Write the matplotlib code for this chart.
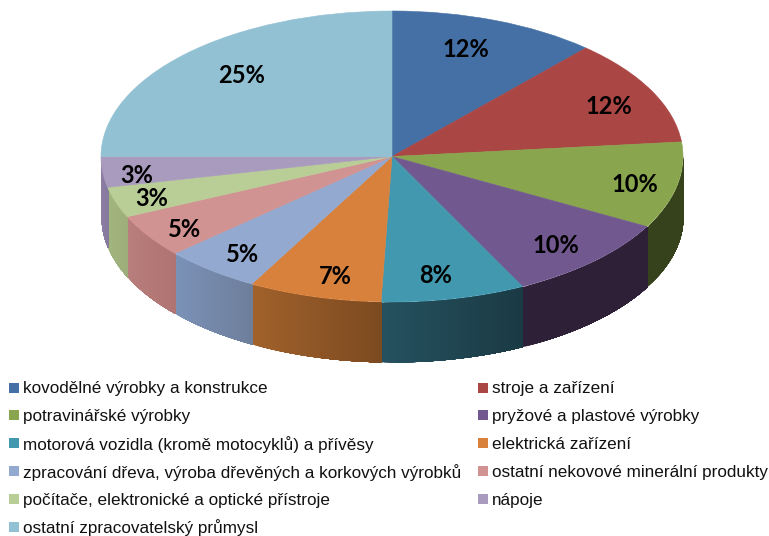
import numpy as np
from matplotlib import pyplot as plt
from matplotlib.colors import to_rgb
from matplotlib.patches import Rectangle

plt.rcParams['font.family'] = ['Liberation Sans', 'DejaVu Sans']

################################################################################
### Data
################################################################################
categories = ['kovodělné výrobky a konstrukce', 'stroje a zařízení',
              'potravinářské výrobky', 'pryžové a plastové výrobky',
              'motorová vozidla (kromě motocyklů) a přívěsy', 'elektrická zařízení',
              'zpracování dřeva, výroba dřevěných a korkových výrobků',
              'ostatní nekovové minerální produkty',
              'počítače, elektronické a optické přístroje', 'nápoje',
              'ostatní zpracovatelský průmysl']
values = [11.6, 11.8, 9.6, 9.6, 8.0, 7.4, 5.4, 4.8, 3.4, 3.4, 25.0]
labels = ['12%', '12%', '10%', '10%', '8%', '7%', '5%', '5%', '3%', '3%', '25%']
colors = ['#4470a5', '#aa4644', '#89a54e', '#71588f', '#4198af', '#d8813c',
          '#93a9cf', '#d19392', '#b9cd96', '#a99bbd', '#92c1d3']

# side wall colours, left end and right end as seen on the page
wall_left = ['#4470a5', '#aa4644', '#36421c', '#2e2037', '#25515f', '#a2622c',
             '#7b92b8', '#b87f7d', '#a3b57f', '#8d7da5', '#92c1d3']
wall_right = ['#4470a5', '#aa4644', '#36421c', '#2e2037', '#1a3a44', '#7c4a20',
              '#6e7f9c', '#b07472', '#9dae7a', '#877a9f', '#92c1d3']

# how far out along the slice each label sits, then a nudge in pixels
label_r = [0.77, 0.81, 0.87, 0.82, 0.82, 0.80, 0.83, 0.87, 0.87, 0.88, 0.77]
label_dx = [-6, 7, -5, -2, -7, 5, 1, 5, 0, -1, 8]
label_dy = [2, -4, -3, -3, -2, -8, -4, -4, -2, -5, 2]

################################################################################
### Pie top, squashed through the axis limits
################################################################################
W, H = 769, 536
cx, cy = 392, 156.5    # pie centre in pixels
rx, ry = 291, 145.5    # pie radii in pixels
depth = 60 / ry

fig = plt.figure(figsize=(W / 100, H / 100), dpi=100)
ax = fig.add_axes([0, 0, 1, 1])
wedges, _ = ax.pie(values, colors=colors, startangle=90, counterclock=False,
                   wedgeprops={'linewidth': 0.4, 'zorder': 3})
for wedge in wedges:
    wedge.set_edgecolor(wedge.get_facecolor())
ax.set_aspect('auto')
ax.set_xlim(-cx / rx, (W - cx) / rx)
ax.set_ylim(-(H - cy) / ry, cy / ry)

################################################################################
### Side wall of each slice
################################################################################
for wedge, c1, c2 in zip(wedges, wall_left, wall_right):
    # only the part of a slice on the front half has a wall
    t = np.radians(np.linspace(wedge.theta1, wedge.theta2, 60))
    t = t[np.sin(t) <= 0]
    # wedge angles run either way round, sort them left to right on the page
    t = t[np.argsort(np.cos(t))]
    # each band runs on to the slice's right end, so no seams show between bands
    for i in range(len(t) - 1):
        x = np.cos(t[i:])
        y = np.sin(t[i:])
        f = (i + 0.5) / (len(t) - 1)
        c = (1 - f) * np.array(to_rgb(c1)) + f * np.array(to_rgb(c2))
        ax.fill_between(x, y, y - depth, color=c, linewidth=0, zorder=2)

################################################################################
### Percent labels
################################################################################
for wedge, lab, r, dx, dy in zip(wedges, labels, label_r, label_dx, label_dy):
    mid = np.radians((wedge.theta1 + wedge.theta2) / 2)
    ax.text(r * np.cos(mid) + dx / rx, r * np.sin(mid) + dy / ry, lab,
            ha='center', va='center', family='Lato', fontweight='bold',
            fontsize=17, color='black', zorder=4)

################################################################################
### Legend, filled row by row on an even pitch
################################################################################
col_x = [9, 478]
row_y = 387.5
row_pitch = 27.8
box = 10
for i, (name, c) in enumerate(zip(categories, colors)):
    x = col_x[i % 2]
    y = row_y + row_pitch * (i // 2)
    fig.add_artist(Rectangle((x / W, 1 - (y + box / 2) / H), box / W, box / H,
                             transform=fig.transFigure, facecolor=c, edgecolor='none'))
    fig.text((x + box + 4) / W, 1 - y / H, name, fontsize=12.3, ha='left',
             va='center_baseline', color='#111111')

fig.savefig('out.png', dpi=100)
plt.close(fig)
